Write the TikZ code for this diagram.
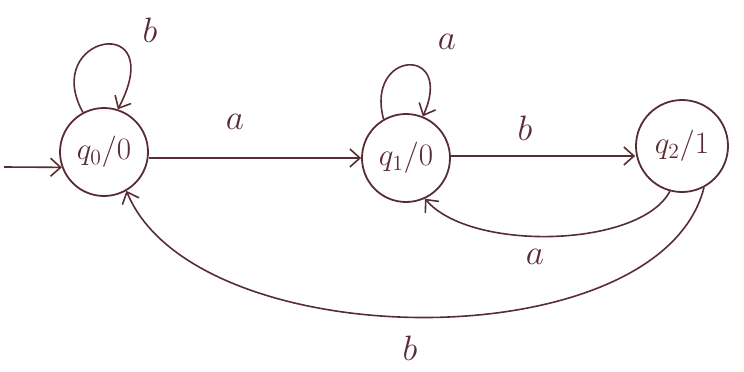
\documentclass[tikz,border=0pt]{standalone}
\usetikzlibrary{arrows.meta}
\definecolor{ink}{RGB}{88,44,52}
\newcommand{\statetxt}[1]{\scalebox{1.5}{#1}}
\newcommand{\edgetxt}[1]{\scalebox{1.7}{#1}}
\begin{document}
\begin{tikzpicture}[x=1pt,y=-1pt,
  state/.style={circle,draw=ink,line width=1.8pt,minimum size=88pt,inner sep=0pt,text=ink,font=\huge},
  edge/.style={draw=ink,line width=1.6pt,-{Straight Barb[length=10pt,width=18pt,line width=1.6pt]}},
  lbl/.style={text=ink,font=\huge}]
\useasboundingbox (0,0) rectangle (744,372);
\node[state] (q0) at (104,152) {\statetxt{$q_0/0$}};
\node[state] (q1) at (406,158) {\statetxt{$q_1/0$}};
\node[state,minimum size=92pt] (q2) at (682,146) {\statetxt{$q_2/1$}};
\coordinate (init) at (4,167);
\draw[edge] (init) -- (q0.200);
\draw[edge] (q0.118) .. controls (40,35) and (170,10) .. (q0.72);
\node[lbl] (l1) at (150,30) {\edgetxt{$b$}};
\draw[edge] (q1.120) .. controls (365,50) and (455,45) .. (q1.68);
\node[lbl] (l2) at (447,42) {\edgetxt{$a$}};
\draw[edge] (q0.east |- 0,158) -- (q1.west |- 0,158);
\node[lbl] (l3) at (235,122) {\edgetxt{$a$}};
\draw[edge] (q1.east |- 0,156) -- (q2.west |- 0,156);
\node[lbl] (l4) at (525,128) {\edgetxt{$b$}};
\draw[edge] (q2.-105) .. controls (640,248) and (470,252) .. (q1.-65);
\node[lbl] (l5) at (535,257) {\edgetxt{$a$}};
\draw[edge] (q2.-62) .. controls (660,362) and (195,358) .. (q0.-60);
\node[lbl] (l6) at (410,348) {\edgetxt{$b$}};
\end{tikzpicture}
\end{document}
